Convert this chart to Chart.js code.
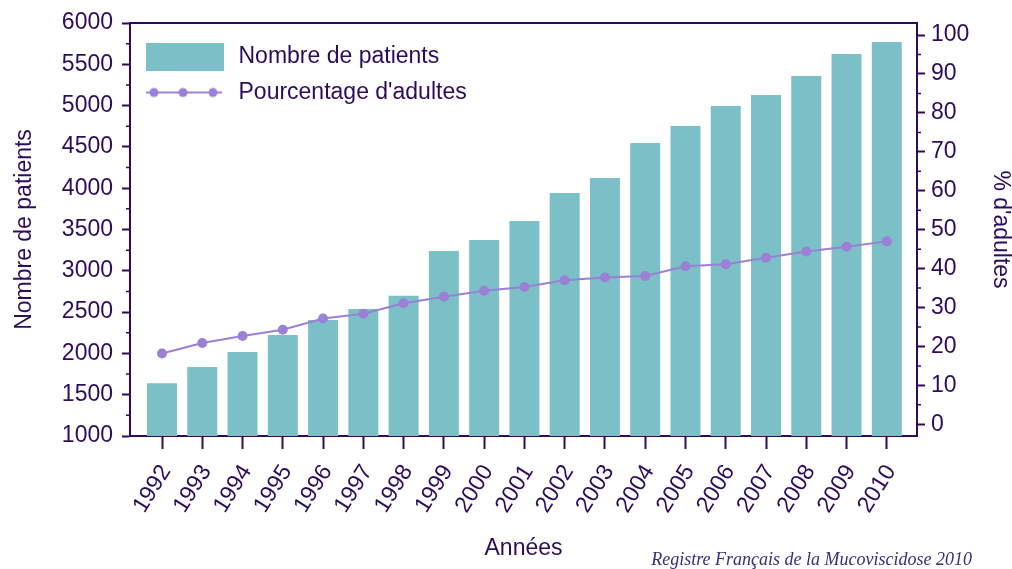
<!DOCTYPE html>
<html>
<head>
<meta charset="utf-8">
<script src="https://cdn.jsdelivr.net/npm/chart.js@4/dist/chart.umd.min.js"></script>
<style>
html, body { margin: 0; padding: 0; background: #fff; }
#wrap { width: 1012px; height: 569px; }
</style>
</head>
<body>
<div id="wrap"><canvas id="chart"></canvas></div>
<script>
// data
var years = [1992, 1993, 1994, 1995, 1996, 1997, 1998, 1999, 2000, 2001,
             2002, 2003, 2004, 2005, 2006, 2007, 2008, 2009, 2010];
var patients = [1640, 1835, 2017, 2223, 2404, 2538, 2699, 3240, 3373, 3603,
                3942, 4123, 4547, 4753, 4995, 5128, 5358, 5625, 5770];
var adultPct = [18.2, 20.9, 22.7, 24.3, 27.2, 28.4, 31.1, 32.8, 34.3, 35.3,
                37.0, 37.7, 38.1, 40.6, 41.1, 42.8, 44.4, 45.6, 47.0];
var seriesNames = ['Nombre de patients', "Pourcentage d'adultes"];
var axisTitles = ['Nombre de patients', "% d'adultes", 'Années'];
var credit = 'Registre Français de la Mucoviscidose 2010';

var textColor = '#2e0b5a';
var barColor = '#7bbfc7';
var lineColor = '#9b80d6';
var font = 'Liberation Sans';

// legend swatches
function barSwatch() {
	var c = document.createElement('canvas');
	c.width = 84; c.height = 28;
	var g = c.getContext('2d');
	g.fillStyle = barColor;
	g.fillRect(3, 0, 78, 28);
	return c;
}
function lineSwatch() {
	var c = document.createElement('canvas');
	c.width = 84; c.height = 12;
	var g = c.getContext('2d');
	g.strokeStyle = lineColor;
	g.lineWidth = 2;
	g.beginPath(); g.moveTo(3, 6); g.lineTo(79, 6); g.stroke();
	g.fillStyle = lineColor;
	[11, 40, 70].forEach(function(x) {
		g.beginPath(); g.arc(x, 6, 4.5, 0, Math.PI * 2); g.fill();
	});
	return c;
}
var swatches = [barSwatch(), lineSwatch()];

var extras = {
	id: 'extras',
	afterDraw: function(chart) {
		var ctx = chart.ctx;
		var a = chart.chartArea;
		var y = chart.scales.y, y2 = chart.scales.y2;
		ctx.save();
		ctx.strokeStyle = textColor;
		ctx.lineWidth = 1.5;
		ctx.beginPath();
		for (var v = 1250; v < 6000; v += 500) {
			var p = y.getPixelForValue(v);
			ctx.moveTo(a.left - 4, p); ctx.lineTo(a.left, p);
		}
		for (var w = 5; w < 100; w += 10) {
			var q = y2.getPixelForValue(w);
			ctx.moveTo(a.right, q); ctx.lineTo(a.right + 4, q);
		}
		ctx.stroke();
		// top frame line
		ctx.lineWidth = 2;
		ctx.beginPath();
		ctx.moveTo(a.left - 1, a.top); ctx.lineTo(a.right + 1, a.top);
		ctx.stroke();
		// credit
		ctx.fillStyle = '#3b2c7c';
		ctx.font = 'italic 18px "Liberation Serif"';
		ctx.textAlign = 'right';
		ctx.textBaseline = 'alphabetic';
		ctx.fillText(credit, 972, 565);
		ctx.restore();
	}
};

new Chart(document.getElementById('chart'), {
	type: 'bar',
	data: {
		labels: years,
		datasets: [
			{
				type: 'line',
				label: seriesNames[1],
				data: adultPct,
				yAxisID: 'y2',
				borderColor: lineColor,
				backgroundColor: lineColor,
				borderWidth: 2,
				pointRadius: 5,
				pointBorderWidth: 0,
				order: 0
			},
			{
				label: seriesNames[0],
				data: patients,
				yAxisID: 'y',
				backgroundColor: barColor,
				categoryPercentage: 1,
				barPercentage: 0.745,
				order: 1
			}
		]
	},
	options: {
		responsive: true,
		maintainAspectRatio: false,
		animation: false,
		layout: { padding: { top: 23, left: 0, right: 0, bottom: 0 } },
		plugins: {
			tooltip: { enabled: false },
			legend: {
				position: 'chartArea',
				align: 'start',
				title: { display: true, text: ' ', font: { size: 12, lineHeight: 1 }, padding: 10 },
				labels: {
					usePointStyle: true,
					pointStyleWidth: 84,
					boxHeight: 23,
					padding: 13,
					color: textColor,
					font: { family: font, size: 23 },
					generateLabels: function(chart) {
						return [0, 1].map(function(i) {
							return {
								text: seriesNames[i],
								pointStyle: swatches[i],
								fontColor: textColor,
								lineWidth: 0,
								datasetIndex: 1 - i
							};
						});
					}
				}
			}
		},
		scales: {
			x: {
				type: 'linear',
				position: 'bottom',
				min: 1991.205,
				max: 2010.75,
				offset: false,
				afterFit: function(s) { s.height = 133; },
				ticks: {
					stepSize: 1,
					includeBounds: false,
					autoSkip: false,
					minRotation: 58,
					maxRotation: 58,
					padding: 11,
					labelOffset: 4,
					color: textColor,
					font: { family: font, size: 23 },
					callback: function(v) { return String(v); }
				},
				grid: { offset: false, drawOnChartArea: false, tickLength: 13, tickColor: textColor, tickWidth: 2 },
				border: { color: textColor, width: 2 },
				title: {
					display: true, text: axisTitles[2], color: textColor,
					font: { family: font, size: 23 }, padding: { top: 0, bottom: 7 }
				}
			},
			y: {
				position: 'left',
				min: 1000,
				max: 6000,
				afterFit: function(s) { s.width = 130; },
				ticks: {
					stepSize: 500,
					padding: 9,
					color: textColor,
					font: { family: font, size: 23 },
					callback: function(v) { return String(v); }
				},
				grid: { drawOnChartArea: false, tickLength: 8, tickColor: textColor, tickWidth: 2 },
				border: { color: textColor, width: 2 },
				title: {
					display: true, text: axisTitles[0], color: textColor,
					font: { family: font, size: 23 }, padding: { top: 11, bottom: 0 }
				}
			},
			y2: {
				position: 'right',
				min: -3.0,
				max: 103.1,
				afterFit: function(s) { s.width = 95; },
				ticks: {
					stepSize: 10,
					includeBounds: false,
					padding: 6,
					color: textColor,
					font: { family: font, size: 23 }
				},
				grid: { drawOnChartArea: false, tickLength: 8, tickColor: textColor, tickWidth: 2 },
				border: { color: textColor, width: 2 },
				title: {
					display: true, text: axisTitles[1], color: textColor,
					font: { family: font, size: 23, lineHeight: 1 }, padding: { top: 0, bottom: 0 }
				}
			}
		}
	},
	plugins: [extras]
});
</script>
</body>
</html>
